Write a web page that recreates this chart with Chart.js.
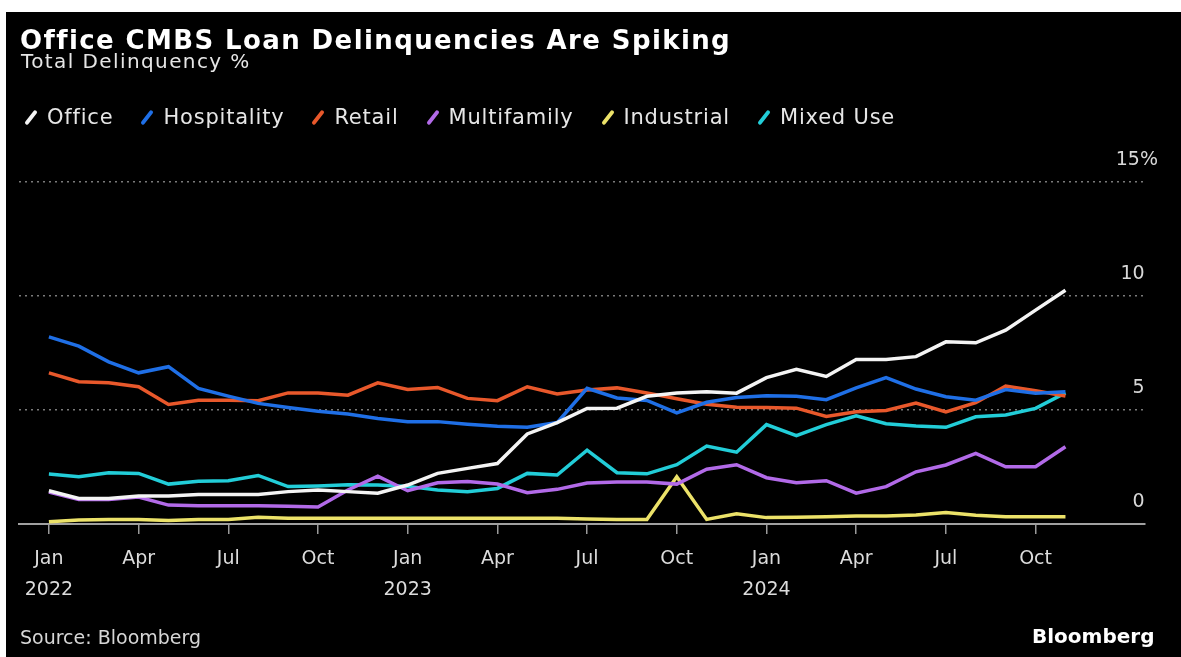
<!DOCTYPE html>
<html>
<head>
<meta charset="utf-8">
<script src="https://cdn.jsdelivr.net/npm/chart.js@4/dist/chart.umd.min.js"></script>
<style>
  html, body { margin: 0; padding: 0; background: #fff; }
  #frame { position: absolute; left: 6px; top: 12px; width: 1175px; height: 645px; background: #000; }
  #chart { position: absolute; left: 0; top: 0; }
  .txt { position: absolute; font-family: "DejaVu Sans", sans-serif; white-space: nowrap; line-height: 1; }
  #title { left: 20px; top: 27px; font-size: 26px; font-weight: bold; color: #fff; letter-spacing: 1.4px; }
  #subtitle { left: 21px; top: 51px; font-size: 20px; color: #e6e6e6; letter-spacing: 1.4px; }
  #legend { position: absolute; left: 25px; top: 107px; display: flex; font-family: "DejaVu Sans", sans-serif; font-size: 21px; color: #e6e6e6; letter-spacing: 0.8px; line-height: 1; }
  .item { display: flex; align-items: center; margin-right: 28px; }
  .swatch { width: 4px; height: 17px; border-radius: 2px; transform: rotate(38deg); margin: 0 14px 0 4px; }
  #source { left: 20px; top: 628px; font-size: 19px; color: #d6d6d6; }
  #brand { left: 1032px; top: 626px; font-size: 20px; font-weight: bold; color: #fff; }
</style>
</head>
<body>
<div id="frame"></div>
<canvas id="chart" width="1181" height="657"></canvas>
<div class="txt" id="title">Office CMBS Loan Delinquencies Are Spiking</div>
<div class="txt" id="subtitle">Total Delinquency %</div>
<div id="legend"></div>
<div class="txt" id="source">Source: Bloomberg</div>
<div class="txt" id="brand">Bloomberg</div>
<script>
const months = [
    'Jan 2022', 'Feb 2022', 'Mar 2022', 'Apr 2022', 'May 2022', 'Jun 2022',
    'Jul 2022', 'Aug 2022', 'Sep 2022', 'Oct 2022', 'Nov 2022', 'Dec 2022',
    'Jan 2023', 'Feb 2023', 'Mar 2023', 'Apr 2023', 'May 2023', 'Jun 2023',
    'Jul 2023', 'Aug 2023', 'Sep 2023', 'Oct 2023', 'Nov 2023', 'Dec 2023',
    'Jan 2024', 'Feb 2024', 'Mar 2024', 'Apr 2024', 'May 2024', 'Jun 2024',
    'Jul 2024', 'Aug 2024', 'Sep 2024', 'Oct 2024', 'Nov 2024'
];

const office = [1.46, 1.12, 1.12, 1.23, 1.23, 1.29, 1.29, 1.29, 1.42, 1.49, 1.42, 1.35,
    1.71, 2.22, 2.44, 2.65, 3.95, 4.45, 5.07, 5.08, 5.6, 5.75, 5.8, 5.74,
    6.42, 6.78, 6.47, 7.22, 7.22, 7.34, 7.99, 7.95, 8.5, 9.38, 10.25];
const hospitality = [8.21, 7.8, 7.11, 6.63, 6.9, 5.95, 5.61, 5.29, 5.11, 4.95, 4.82, 4.63,
    4.49, 4.49, 4.38, 4.29, 4.24, 4.45, 5.95, 5.53, 5.42, 4.87, 5.34, 5.55,
    5.62, 5.6, 5.45, 5.97, 6.42, 5.92, 5.58, 5.43, 5.9, 5.73, 5.8];
const retail = [6.63, 6.24, 6.19, 6.02, 5.24, 5.43, 5.43, 5.41, 5.75, 5.75, 5.65, 6.19,
    5.9, 5.99, 5.51, 5.41, 6.02, 5.7, 5.88, 5.97, 5.75, 5.49, 5.25, 5.12,
    5.11, 5.08, 4.72, 4.92, 4.98, 5.3, 4.92, 5.32, 6.05, 5.84, 5.61];
const multifamily = [1.4, 1.08, 1.08, 1.18, 0.83, 0.8, 0.8, 0.8, 0.78, 0.75, 1.49, 2.1,
    1.46, 1.81, 1.86, 1.75, 1.37, 1.52, 1.8, 1.84, 1.84, 1.75, 2.4, 2.6,
    2.03, 1.81, 1.9, 1.35, 1.64, 2.29, 2.59, 3.1, 2.51, 2.51, 3.39];
const industrial = [0.1, 0.18, 0.2, 0.2, 0.15, 0.2, 0.2, 0.3, 0.25, 0.25, 0.25, 0.25,
    0.25, 0.25, 0.25, 0.25, 0.25, 0.25, 0.22, 0.2, 0.2, 2.07, 0.2, 0.45,
    0.28, 0.3, 0.32, 0.35, 0.35, 0.4, 0.5, 0.38, 0.32, 0.32, 0.32];
const mixedUse = [2.19, 2.07, 2.25, 2.22, 1.75, 1.88, 1.9, 2.13, 1.64, 1.67, 1.72, 1.71,
    1.65, 1.49, 1.42, 1.56, 2.22, 2.15, 3.24, 2.25, 2.2, 2.6, 3.42, 3.15,
    4.36, 3.88, 4.36, 4.75, 4.4, 4.3, 4.24, 4.7, 4.78, 5.07, 5.75];

const yTicks = [0, 5, 10, 15];

const series = [
    { label: 'Office', data: office, color: '#f4f4f4' },
    { label: 'Hospitality', data: hospitality, color: '#1f6fe6' },
    { label: 'Retail', data: retail, color: '#e8582b' },
    { label: 'Multifamily', data: multifamily, color: '#b26ae8' },
    { label: 'Industrial', data: industrial, color: '#ece269' },
    { label: 'Mixed Use', data: mixedUse, color: '#22cdd8' }
];

// legend
const legendEl = document.getElementById('legend');
series.forEach(s => {
    const item = document.createElement('div');
    item.className = 'item';
    const sw = document.createElement('span');
    sw.className = 'swatch';
    sw.style.background = s.color;
    const tx = document.createElement('span');
    tx.textContent = s.label;
    item.appendChild(sw);
    item.appendChild(tx);
    legendEl.appendChild(item);
});

const ctx = document.getElementById('chart').getContext('2d');
new Chart(ctx, {
    type: 'line',
    data: {
        datasets: series.map(s => ({
            label: s.label,
            data: s.data.map((v, i) => ({ x: i, y: v })),
            borderColor: s.color,
            borderWidth: 3.5,
            pointRadius: 0,
            tension: 0,
            fill: false
        }))
    },
    options: {
        responsive: false,
        animation: false,
        layout: { padding: { left: 19, top: 182, right: 0, bottom: 0 } },
        plugins: {
            legend: { display: false },
            tooltip: { enabled: false }
        },
        scales: {
            x: {
                type: 'linear',
                min: -1,
                max: 36.66,
                afterBuildTicks: scale => {
                    scale.ticks = months.map((m, i) => ({ value: i })).filter(t => t.value % 3 === 0);
                },
                afterFit: scale => { scale.height = 657 - 524; },
                grid: { drawOnChartArea: false, drawTicks: true, tickLength: 10, color: '#9a9a9a', lineWidth: 1.5 },
                border: { display: true, color: '#a0a0a0', width: 2 },
                ticks: {
                    autoSkip: false,
                    maxRotation: 0,
                    padding: 10,
                    color: '#dcdcdc',
                    font: { family: 'DejaVu Sans', size: 19, lineHeight: 1.6 },
                    callback: v => {
                        const [m, y] = months[v].split(' ');
                        return m === 'Jan' ? [m, y] : m;
                    }
                }
            },
            y: {
                position: 'right',
                min: 0,
                max: 15,
                afterBuildTicks: scale => { scale.ticks = yTicks.map(v => ({ value: v })); },
                afterFit: scale => { scale.width = 1181 - 1145; },
                grid: {
                    drawTicks: false,
                    color: c => c.tick.value === 0 ? 'rgba(0,0,0,0)' : '#7a7a7a',
                    lineWidth: 1.5
                },
                border: { display: false, dash: [2, 4] },
                ticks: {
                    mirror: true,
                    padding: 13,
                    labelOffset: -22,
                    color: '#d8d8d8',
                    font: { family: 'DejaVu Sans', size: 19 },
                    callback: v => v === 15 ? '15%' : v + '\u2002\u2009'
                }
            }
        }
    }
});
</script>
</body>
</html>
